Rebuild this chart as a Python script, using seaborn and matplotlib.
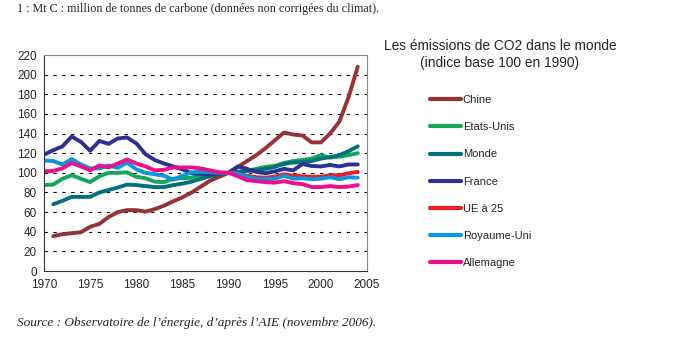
import numpy as np
import pandas as pd
import matplotlib
matplotlib.use("Agg")
import matplotlib.pyplot as plt
import seaborn as sns

years = list(range(1970, 2005))

chine = [np.nan, 35.5, 37.5, 38.5, 39.5, 45, 48, 55, 60, 62, 62, 60.5, 63, 66.5, 71, 75, 80, 86,
         92, 96, 100, 106, 112, 118, 125, 133, 141, 139, 138, 131, 131, 140, 152, 177, 208]
etats_unis = [87.5, 88, 94, 97.5, 94, 90.5, 96.5, 100, 100, 100.5, 96, 94.5, 91, 90.5, 94, 94.5, 95,
              97.5, 99.5, 100, 100, 99.5, 102, 104, 106, 107, 110, 112, 113, 114.5, 118, 115.5,
              116.5, 118, 120]
monde = [np.nan, 68, 71.5, 75.5, 75.5, 75.5, 80, 82.5, 85, 88, 87.5, 86.5, 85.5, 85.5, 87.5, 89, 91,
         94, 96.5, 98.5, 100, 101, 102, 102.5, 104, 106, 109, 110.5, 111, 112, 114.5, 116, 118,
         122, 127]
france = [118.5, 123, 127, 137, 131.5, 122.5, 132.5, 129.5, 135, 136, 130, 119, 113, 109.5, 106.5,
          103.5, 99.5, 99, 98.5, 99.5, 100, 106.5, 104, 101, 99.5, 101.5, 104, 102.5, 109, 107,
          106.5, 108, 106.5, 108.5, 108.5]
ue25 = [np.nan] * 20 + [100, 99, 97, 95.5, 95, 96, 98.5, 97, 96.5, 96, 96, 97.5, 97.5, 99.5, 101]
royaume_uni = [112.5, 112, 108.5, 114, 108.5, 104.5, 104.5, 107.5, 105, 110.5, 103.5, 100, 98.5, 97,
               93, 97, 100.5, 101, 100.5, 100, 100, 99, 96, 94, 93.5, 94, 97, 94, 94.5, 93.5, 94,
               95.5, 93.5, 95.5, 95]
allemagne = [101.5, 102, 104.5, 110, 106.5, 102.5, 107.5, 105.5, 109.5, 113.5, 109.5, 106.5, 102.5,
             103, 105.5, 105.5, 105.5, 104.5, 102.5, 100.5, 100, 96.5, 92.5, 91.5, 90.5, 90, 91.5,
             89.5, 88.5, 85.5, 85.5, 86.5, 85.5, 86, 87.5]

series_names = ["Chine", "Etats-Unis", "Monde", "France", "UE à 25", "Royaume-Uni", "Allemagne"]
colors = ["#953336", "#14A659", "#00727A", "#2E3192", "#EE1C25", "#0C96DB", "#EC0F8C"]
x_ticks = [1970, 1975, 1980, 1985, 1990, 1995, 2000, 2005]
y_ticks = list(range(0, 221, 20))

df = pd.DataFrame({"year": years, "Chine": chine, "Etats-Unis": etats_unis, "Monde": monde,
                   "France": france, "UE à 25": ue25, "Royaume-Uni": royaume_uni,
                   "Allemagne": allemagne})
long = df.melt(id_vars="year", var_name="pays", value_name="indice").dropna()

sns.set_style("white")
plt.rcParams['font.family'] = ['Liberation Sans', 'DejaVu Sans']

fig = plt.figure(figsize=(6.79, 3.43), dpi=100)
ax = fig.add_axes([44 / 679, 1 - 271 / 343, 323 / 679, 216 / 343])

sns.lineplot(data=long, x="year", y="indice", hue="pays", hue_order=series_names,
             palette=dict(zip(series_names, colors)), linewidth=2.8, ax=ax, legend=True)

ax.set_xlim(1970, 2005)
ax.set_ylim(0, 220)
ax.set_xticks(x_ticks)
ax.set_yticks(y_ticks)
ax.set_xlabel("")
ax.set_ylabel("")
ax.tick_params(axis="both", labelsize=8.5, length=3, width=0.8, color="#333333", pad=2,
               direction="out")
ax.tick_params(axis="x", pad=3)
for y in y_ticks[1:-1]:
    ax.axhline(y, color="black", linewidth=0.8, linestyle=(0, (3, 5)), zorder=0)
for s in ["left", "bottom"]:
    ax.spines[s].set_color("#333333")
    ax.spines[s].set_linewidth(0.8)
for s in ["top", "right"]:
    ax.spines[s].set_color("#888888")
    ax.spines[s].set_linewidth(0.8)
ax.spines["top"].set_visible(True)
ax.spines["right"].set_visible(True)

handles, labels = ax.get_legend_handles_labels()
ax.get_legend().remove()
for h in handles:
    h.set_linewidth(3)
fig.legend(handles, labels, loc="upper left", bbox_to_anchor=(430 / 679, 1 - 95 / 343),
           frameon=False, fontsize=8, handlelength=2.8, handletextpad=0.15,
           labelspacing=1.55, borderpad=0, borderaxespad=0)

fig.text(500 / 679, 1 - 46 / 343, "Les émissions de CO2 dans le monde", ha="center", va="center",
         fontsize=9.9)
fig.text(500 / 679, 1 - 63 / 343, "(indice base 100 en 1990)", ha="center", va="center",
         fontsize=9.9)
fig.text(17 / 679, 1 - 9 / 343,
         "1 : Mt C : million de tonnes de carbone (données non corrigées du climat).",
         ha="left", va="center", fontsize=8.7, family=['Liberation Serif', 'DejaVu Serif'])
fig.text(17 / 679, 1 - 323 / 343,
         "Source : Observatoire de l’énergie, d’après l’AIE (novembre 2006).",
         ha="left", va="center", fontsize=9.5, style="italic",
         family=['Liberation Serif', 'DejaVu Serif'])

fig.savefig("out.png", dpi=100)
